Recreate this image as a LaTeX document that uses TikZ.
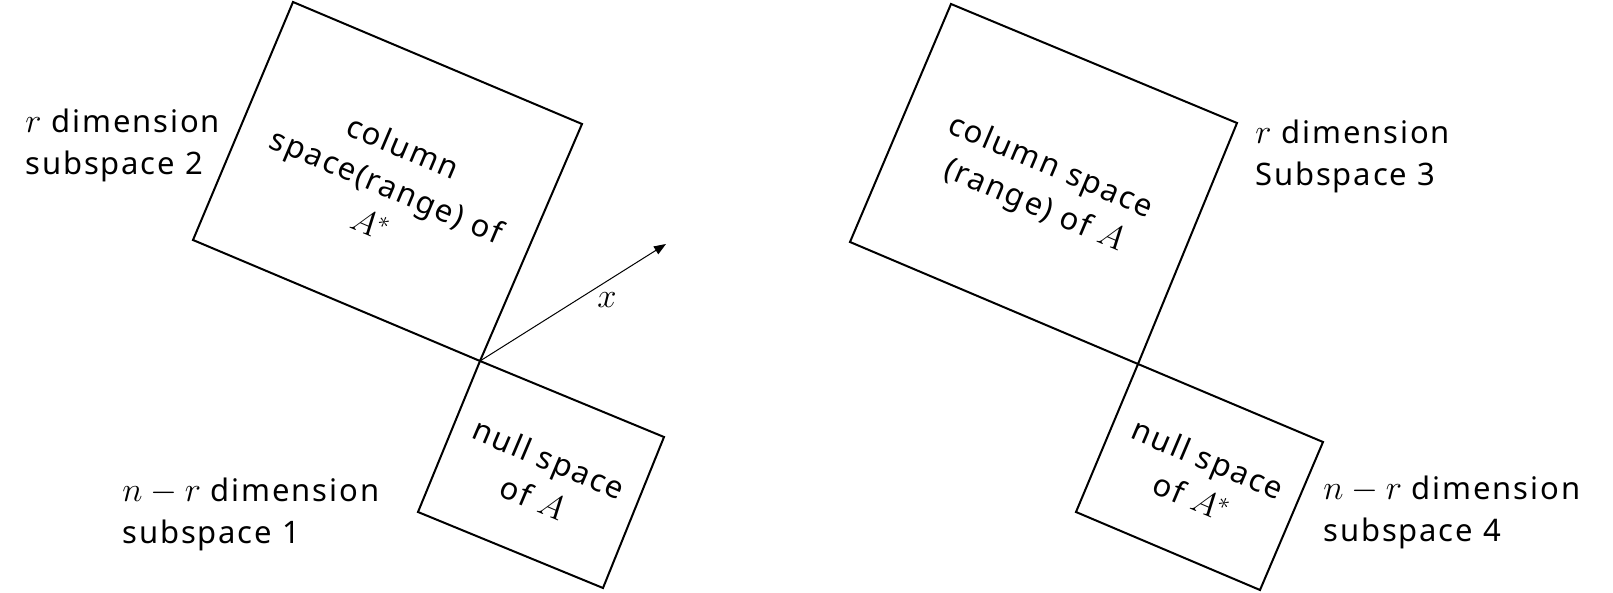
\documentclass[tikz,border=0pt]{standalone}
\usepackage{fontspec}
\setmainfont{Noto Sans}[LetterSpace=6]
\usetikzlibrary{arrows.meta}
\DeclareMathSizes{15.5}{18}{13}{10}
\newcommand\lblfont{\fontsize{15.5}{21}\selectfont}
\begin{document}
\begin{tikzpicture}[x=0.5pt,y=-0.5pt,
  box/.style={draw, line width=1pt, line join=miter},
  lbl/.style={font=\lblfont, align=left, inner sep=0pt, anchor=west},
  intext/.style={font=\lblfont, align=center, inner sep=0pt, rotate=-23},
  vec/.style={-{Triangle[length=6pt,width=4.5pt]}, line width=0.5pt}]
\useasboundingbox (0,0) rectangle (1613,593);
% left figure
\coordinate (A1) at (193,240);
\coordinate (A2) at (293,2);
\coordinate (A3) at (582,124);
\coordinate (O1) at (480,361);
\coordinate (B2) at (664,437);
\coordinate (B3) at (603,588);
\coordinate (B4) at (418,512);
\coordinate (T1) at (666,244);
\draw[box] (A1) -- (A2) -- (A3) -- (O1) -- cycle;
\draw[box] (O1) -- (B2) -- (B3) -- (B4) -- cycle;
\draw[vec] (O1) -- (T1);
\node[font=\lblfont] (xl) at (607,300) {$x$};
\node[intext] (colAs) at (387,185) {column\\space(range) of\\$A^*$};
\node[intext] (nullA) at (541,478) {null space\\of $A$};
\node[lbl] (sub2) at (25,145) {$r$ dimension\\subspace 2};
\node[lbl] (sub1) at (122,514) {$n-r$ dimension\\subspace 1};
% right figure
\coordinate (C1) at (850,242);
\coordinate (C2) at (951,4);
\coordinate (C3) at (1237,123);
\coordinate (O2) at (1138,364);
\coordinate (D2) at (1323,442);
\coordinate (D3) at (1260,590);
\coordinate (D4) at (1076,512);
\draw[box] (C1) -- (C2) -- (C3) -- (O2) -- cycle;
\draw[box] (O2) -- (D2) -- (D3) -- (D4) -- cycle;
\node[intext] (colA) at (1042,187) {column space\\(range) of $A$};
\node[intext] (nullAs) at (1200,478) {null space\\of $A^*$};
\node[lbl] (sub3) at (1255,156) {$r$ dimension\\Subspace 3};
\node[lbl] (sub4) at (1323,512) {$n-r$ dimension\\subspace 4};
\end{tikzpicture}
\end{document}
